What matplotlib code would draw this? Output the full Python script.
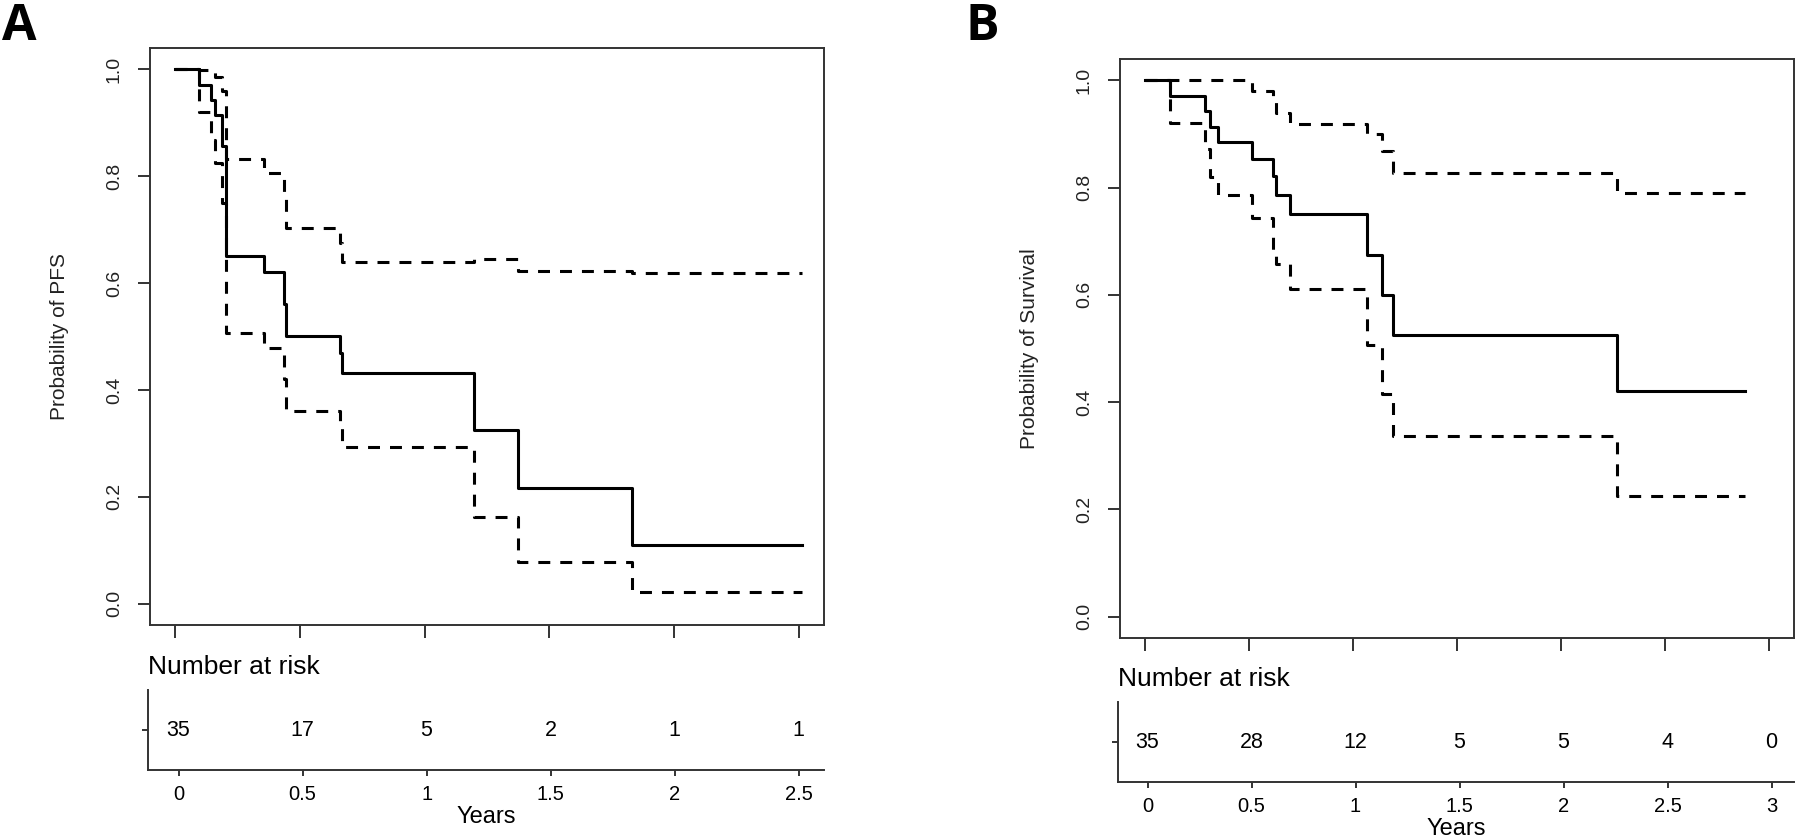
import matplotlib
matplotlib.use("Agg")
import matplotlib.pyplot as plt

plt.rcParams['font.family'] = ['Liberation Sans', 'DejaVu Sans']
plt.rcParams['lines.scale_dashes'] = False

# Panel A: progression-free survival (Kaplan-Meier with 95% CI)
a_time = [0, 0.095, 0.145, 0.161, 0.19, 0.205, 0.357, 0.435, 0.445, 0.66, 0.67, 1.198, 1.375, 1.83, 2.51]
a_surv = [1.0, 0.971, 0.943, 0.914, 0.857, 0.65, 0.62, 0.56, 0.50, 0.47, 0.432, 0.325, 0.216, 0.109, 0.109]
a_lower = [1.0, 0.92, 0.867, 0.824, 0.75, 0.506, 0.478, 0.42, 0.36, 0.33, 0.293, 0.163, 0.077, 0.021, 0.021]
a_upper = [1.0, 0.999, 0.995, 0.985, 0.96, 0.832, 0.806, 0.77, 0.703, 0.675, 0.64, 0.645, 0.622, 0.618, 0.618]
a_risk_times = [0, 0.5, 1, 1.5, 2, 2.5]
a_risk_counts = [35, 17, 5, 2, 1, 1]
a_tick_labels = ['0', '0.5', '1', '1.5', '2', '2.5']

# Panel B: overall survival
b_time = [0, 0.12, 0.288, 0.312, 0.352, 0.515, 0.614, 0.63, 0.697, 1.066, 1.138, 1.19, 2.27, 2.885]
b_surv = [1.0, 0.971, 0.943, 0.914, 0.886, 0.854, 0.821, 0.787, 0.750, 0.674, 0.600, 0.526, 0.421, 0.421]
b_lower = [1.0, 0.921, 0.872, 0.82, 0.786, 0.743, 0.68, 0.658, 0.611, 0.506, 0.416, 0.336, 0.225, 0.225]
b_upper = [1.0, 1.0, 1.0, 1.0, 1.0, 0.98, 0.965, 0.94, 0.918, 0.8995, 0.868, 0.827, 0.79, 0.79]
b_risk_times = [0, 0.5, 1, 1.5, 2, 2.5, 3]
b_risk_counts = [35, 28, 12, 5, 5, 4, 0]
b_tick_labels = ['0', '0.5', '1', '1.5', '2', '2.5', '3']

W, H = 1800, 838
AX_COL = '#333333'
fig = plt.figure(figsize=(W / 100, H / 100), dpi=100)


def px_axes(x, top, w, h):
    return fig.add_axes([x / W, 1 - (top + h) / H, w / W, h / H])


def km_panel(box, risk_box, xlim, risk_xlim, t, s, lo, up, ylabel,
             risk_times, risk_counts, tick_labels):
    ax = px_axes(*box)
    ax.plot(t, s, drawstyle='steps-post', color='black', lw=2.2)
    for ci in (lo, up):
        ax.plot(t, ci, drawstyle='steps-post', color='black', lw=2.2,
                ls=(0, (8.6, 7.2)))
    ax.set_xlim(*xlim)
    ax.set_ylim(-0.04, 1.04)
    ax.set_xticks(risk_times)
    ax.set_xticklabels([])
    ax.set_yticks([0, 0.2, 0.4, 0.6, 0.8, 1.0])
    ax.set_yticklabels(['0.0', '0.2', '0.4', '0.6', '0.8', '1.0'],
                       rotation=90, va='center', fontsize=14, color='#222222')
    ax.tick_params(axis='x', length=9.4, width=1.4, color=AX_COL)
    ax.tick_params(axis='y', length=8.6, width=1.4, color=AX_COL, pad=11)
    for sp in ax.spines.values():
        sp.set_color(AX_COL)
        sp.set_linewidth(1.4)
    ax.set_ylabel(ylabel, fontsize=15, va='center', color='#222222')
    ax.yaxis.set_label_coords(-0.134, 0.5)

    # number at risk table
    rk = px_axes(*risk_box)
    rk.set_xlim(*risk_xlim)
    rk.set_ylim(0, 1)
    for tt, n in zip(risk_times, risk_counts):
        rk.text(tt, 0.5, str(n), ha='center', va='center', fontsize=15.5)
    rk.set_xticks(risk_times)
    rk.set_xticklabels(tick_labels, fontsize=14.5)
    rk.set_yticks([0.5])
    rk.set_yticklabels([])
    rk.tick_params(length=4, width=1.4, color=AX_COL, pad=6.5)
    rk.spines['top'].set_visible(False)
    rk.spines['right'].set_visible(False)
    for side in ('left', 'bottom'):
        rk.spines[side].set_color(AX_COL)
        rk.spines[side].set_linewidth(1.4)
    rk.set_xlabel('Years', fontsize=17, labelpad=2)
    rk.annotate('Number at risk', xy=(0, 1), xycoords='axes fraction',
                xytext=(0, 16.5), textcoords='offset points',
                ha='left', va='center', fontsize=19)
    return ax


km_panel((150, 48, 674, 577), (148, 690, 676, 80), (-0.1, 2.6), (-0.123, 2.602),
         a_time, a_surv, a_lower, a_upper, 'Probability of PFS',
         a_risk_times, a_risk_counts, a_tick_labels)
km_panel((1120, 59, 674, 579), (1118, 702, 676, 80), (-0.12, 3.12), (-0.142, 3.108),
         b_time, b_surv, b_lower, b_upper, 'Probability of Survival',
         b_risk_times, b_risk_counts, b_tick_labels)

fig.text(0.001, 0.998, 'A', fontsize=36, fontweight='bold', family='Open Sans',
         ha='left', va='top')
fig.text(965 / W, 0.998, 'B', fontsize=36, fontweight='bold', family='Open Sans',
         ha='left', va='top')

fig.savefig('out.png', dpi=100)
